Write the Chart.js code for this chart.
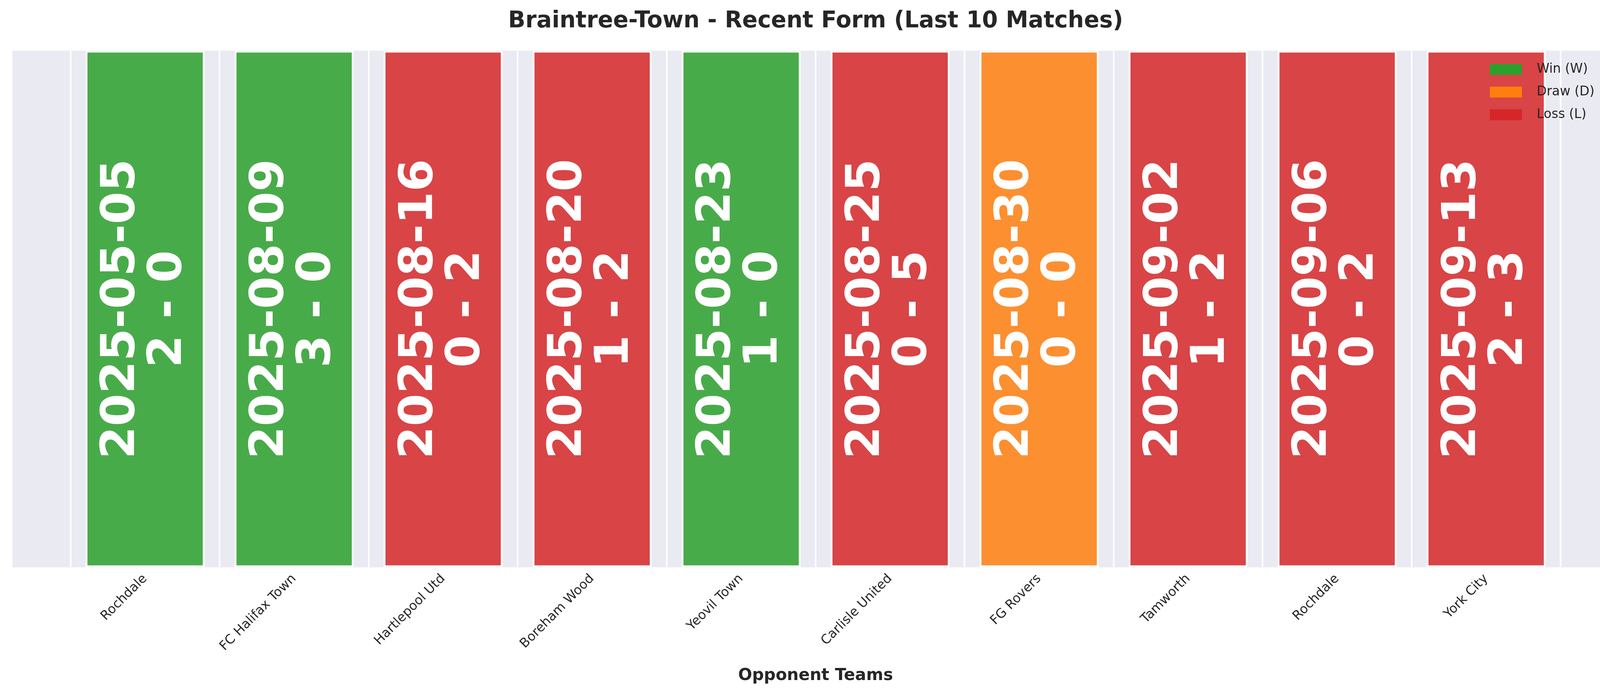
<!DOCTYPE html>
<html><head><meta charset="utf-8">
<script src="https://cdn.jsdelivr.net/npm/chart.js@4/dist/chart.umd.min.js"></script>
<style>html,body{margin:0;padding:0;background:#fff}#w{width:4170px;height:1768px}</style>
</head><body><div id="w"><canvas id="c"></canvas></div>
<script>
const opponents = ["Rochdale","FC Halifax Town","Hartlepool Utd","Boreham Wood","Yeovil Town","Carlisle United","FG Rovers","Tamworth","Rochdale","York City"];
const dates = ["2025-05-05","2025-08-09","2025-08-16","2025-08-20","2025-08-23","2025-08-25","2025-08-30","2025-09-02","2025-09-06","2025-09-13"];
const scores = ["2 - 0","3 - 0","0 - 2","1 - 2","1 - 0","0 - 5","0 - 0","1 - 2","0 - 2","2 - 3"];
const results = ["W","W","L","L","W","L","D","L","L","L"];
const barHeight = [1,1,1,1,1,1,1,1,1,1];
const colorMap = {W:"rgba(44,160,44,0.85)",D:"rgba(255,127,14,0.85)",L:"rgba(214,39,40,0.85)"};
const legendItems = [["Win (W)","#2ca02c"],["Draw (D)","#ff7f0e"],["Loss (L)","#d62728"]];

const bgPlugin = {id:"bg",beforeDraw(ch){const a=ch.chartArea,c=ch.ctx;c.save();c.fillStyle="#eaeaf2";c.fillRect(a.left,a.top,a.right-a.left,a.bottom-a.top);c.restore();}};
const txtPlugin = {id:"txt",afterDatasetsDraw(ch){
  const c=ch.ctx,a=ch.chartArea;c.save();
  ch.getDatasetMeta(0).data.forEach((el,i)=>{
    const cy=(a.top+a.bottom)/2;
    c.save();c.translate(el.x,cy);c.rotate(-Math.PI/2);
    c.fillStyle="#fff";c.font="bold 120px 'DejaVu Sans'";c.textAlign="center";c.textBaseline="middle";
    c.fillText(dates[i],0,-60);c.fillText(scores[i],0,60);c.restore();
  });
  // legend
  let x=a.right-330,y=a.top+48;
  c.font="33px 'DejaVu Sans'";c.textBaseline="middle";c.textAlign="left";
  legendItems.forEach((it,k)=>{const yy=y+k*58;c.fillStyle=it[1];c.fillRect(x,yy-14,82,28);c.fillStyle="#262626";c.fillText(it[0],x+120,yy);});
  c.restore();}};

new Chart(document.getElementById("c"),{
  type:"bar",
  data:{datasets:[{data:barHeight.map((v,i)=>({x:i,y:v})),backgroundColor:results.map(r=>colorMap[r]),borderColor:"rgba(255,255,255,0.85)",borderWidth:5,borderSkipped:false,barPercentage:0.8,categoryPercentage:1}]},
  options:{responsive:true,maintainAspectRatio:false,animation:false,devicePixelRatio:1,
    layout:{padding:{left:32,right:26,top:10,bottom:10}},
    plugins:{legend:{display:false},tooltip:{enabled:false},
      title:{display:true,text:"Braintree-Town - Recent Form (Last 10 Matches)",font:{family:"'DejaVu Sans'",size:58,weight:"bold"},color:"#262626",padding:{top:10,bottom:40}}},
    scales:{
      x:{type:"linear",min:-0.89,max:9.89,offset:false,
        afterBuildTicks(s){s.ticks=opponents.map((_,i)=>({value:i}));},
        ticks:{callback:(v)=>opponents[v]??"",maxRotation:45,minRotation:45,autoSkip:false,font:{family:"'DejaVu Sans'",size:33},color:"#262626",padding:10},
        grid:{color:"#ffffff",lineWidth:4,drawTicks:false},border:{display:false},
        title:{display:true,text:"Opponent Teams",font:{family:"'DejaVu Sans'",size:42,weight:"bold"},color:"#262626",padding:{top:20}}},
      y:{display:false,min:0,max:1}
    }},
  plugins:[bgPlugin,txtPlugin]
});
</script></body></html>
